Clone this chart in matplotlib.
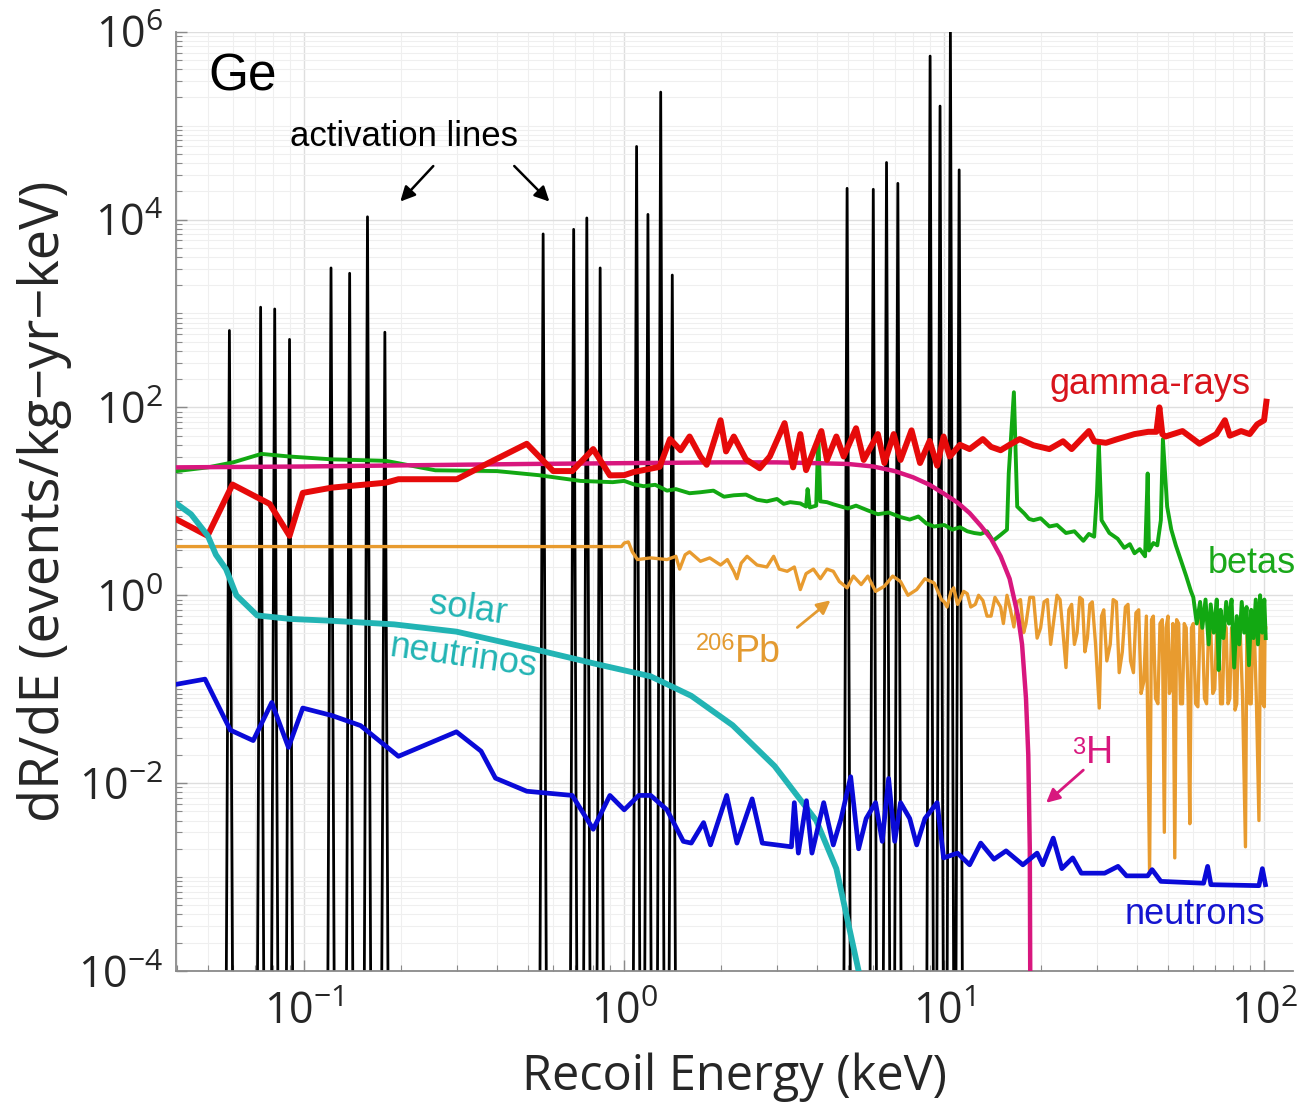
import numpy as np
import matplotlib
matplotlib.use("Agg")
import matplotlib.pyplot as plt
from matplotlib.ticker import LogLocator, NullFormatter

plt.rcParams['font.family'] = ['Open Sans', 'DejaVu Sans']
plt.rcParams['mathtext.fontset'] = 'custom'
plt.rcParams['mathtext.rm'] = 'Open Sans'
plt.rcParams['mathtext.it'] = 'Open Sans:italic'
plt.rcParams['mathtext.bf'] = 'Open Sans:bold'

# activation lines (peak energy keV, peak height)
act_E = [0.0584, 0.0731, 0.0809, 0.0900, 0.1213, 0.1387, 0.1577, 0.1787,
         0.558, 0.695, 0.764, 0.841, 1.093, 1.186, 1.30, 1.413,
         4.97, 6.0, 6.6, 7.16, 9.03, 9.7, 10.45, 11.13]
act_R = [659, 1167, 1117, 530, 3055, 2680, 10700, 632,
         7030, 7870, 10400, 3055, 60000, 11350, 227500, 2566,
         21500, 21000, 40500, 24300, 550000, 161500, 1.0e6, 33800]

# gamma-rays
gam_E = [0.04, 0.0499, 0.0597, 0.078, 0.090, 0.099, 0.122, 0.18, 0.197, 0.30,
         0.379, 0.496, 0.60, 0.688, 0.80, 0.902, 1.0, 1.07, 1.29, 1.39,
         1.50, 1.6, 1.73, 1.81, 2.0, 2.08, 2.2, 2.4, 2.65, 2.85,
         3.17, 3.37, 3.55, 3.7, 4.13, 4.3, 4.6, 4.85, 5.3, 5.6,
         6.2, 6.5, 6.95, 7.3, 7.9, 8.4, 9.0, 9.5, 9.95, 10.4,
         11.2, 12.0, 13.2, 14.0, 15.0, 16.0, 17.2, 19.0, 21.3, 23.5,
         25.0, 28.3, 29.4, 32.0, 34.8, 39.3, 43.4, 46.0, 47.0, 48.0,
         49.1, 55.5, 62.7, 70.8, 75.3, 78.0, 84.6, 90.0, 95.0, 99.8, 101.5]
gam_R = [6.4, 4.3, 15.1, 9.4, 4.3, 12.3, 14, 15.8, 17.2, 17.2,
         25.9, 41, 21, 21, 36, 18.9, 19, 20.5, 23.3, 46,
         35, 49, 30, 24.5, 73, 34, 49, 28, 22.5, 30,
         68, 23, 52, 21.5, 56, 27.6, 49, 30, 60, 27.6,
         52, 25.6, 52, 27.6, 57, 25.6, 44, 24, 49, 30,
         40, 36, 46, 38, 35, 40, 46, 39.5, 36, 43.6,
         36, 56, 43.6, 42, 46, 52, 55, 55, 100, 52,
         49, 56, 41.1, 52, 73, 50, 56, 52, 66, 73, 115]

# betas
beta_E = [0.04, 0.05, 0.06, 0.0735, 0.09, 0.122, 0.18, 0.257, 0.40, 0.54,
          0.73, 0.92, 1.0, 1.07, 1.15, 1.25, 1.36, 1.45, 1.6, 1.73,
          1.9, 2.05, 2.2, 2.4, 2.6, 2.79, 3.0, 3.15, 3.3, 3.55,
          3.7, 3.74, 3.8, 3.98, 4.04, 4.1, 4.3, 4.5, 4.76, 5.0,
          5.3, 5.77, 6.2, 6.7, 7.3, 7.8, 8.3, 8.8, 9.3, 10.0,
          10.6, 11.2, 11.8, 12.4, 13.0, 13.6, 14.2, 15.0, 15.7, 15.9,
          16.5, 16.9, 17.8, 18.4, 19.0, 20.0, 21.3, 22.5, 24.0, 25.5,
          27.2, 28.3, 29.4, 30.0, 30.4, 31.0, 32.8, 34.8, 36.5, 38.0,
          39.3, 40.8, 42.4, 43.2, 43.6, 45.0, 46.3, 47.5, 48.2, 49.7,
          51.2, 52.9, 55.0, 57.0, 59.0, 60.0, 61.5, 63.0, 64.0, 65.5,
          67.0, 68.0, 69.5, 71.0, 72.0, 73.0, 74.5, 76.0, 77.5, 79.0,
          80.5, 82.0, 83.5, 85.0, 86.5, 88.0, 89.5, 91.0, 92.5, 94.0,
          95.5, 97.0, 98.5, 100.0, 101.0]
beta_R = [21, 23, 26, 32, 30, 28, 27, 21.4, 21, 19,
          16.5, 16, 16.5, 15.2, 14.5, 15, 13, 13.5, 12.2, 12.5,
          13, 11.2, 11.6, 11.8, 10.4, 10, 10.6, 9.4, 9.8, 9.5,
          8.8, 13.5, 8.6, 9, 50, 10, 9.8, 9.3, 8.8, 8.4,
          9.0, 8.0, 7.3, 7.6, 6.8, 6.4, 6.9, 5.8, 5.4, 5.6,
          5.0, 5.3, 4.8, 4.6, 4.5, 4.8, 3.8, 4.4, 5.0, 19.8,
          145, 8.8, 7.4, 6.5, 6.3, 6.6, 5.4, 5.6, 4.6, 4.8,
          3.8, 4.5, 4.2, 12.3, 41, 6.3, 4.6, 4.0, 3.2, 3.5,
          2.8, 3.1, 2.6, 19.8, 3.0, 3.6, 3.4, 6.3, 46, 8.8,
          5.0, 3.4, 2.3, 1.6, 1.1, 0.95, 0.5, 0.85, 0.45, 0.9,
          0.3, 0.8, 0.4, 0.9, 0.16, 0.7, 0.35, 0.85, 0.5, 0.9,
          0.17, 0.6, 0.3, 0.85, 0.4, 0.75, 0.18, 0.7, 0.35, 0.9,
          0.3, 1.0, 0.4, 0.9, 0.35]

# 206Pb recoils
pb_E = [0.04, 0.98, 1.0, 1.03, 1.06, 1.1, 1.21, 1.36, 1.45, 1.49,
        1.55, 1.6, 1.73, 1.85, 2.0, 2.1, 2.2, 2.25, 2.32, 2.42,
        2.6, 2.79, 2.93, 3.05, 3.23, 3.4, 3.55, 3.7, 3.9, 4.1,
        4.3, 4.5, 4.7, 4.97, 5.2, 5.5, 5.77, 6.1, 6.5, 6.9,
        7.3, 7.7, 8.2, 8.7, 9.3, 9.8,
        10.0, 10.2, 10.5, 10.7, 11.0, 11.2, 11.5, 11.8, 12.1, 12.5,
        12.8, 13.2, 13.6, 14.0, 14.4, 15.0, 15.3, 15.7, 16.1, 16.5,
        16.9, 17.3, 17.7, 18.0, 18.5, 19.0, 19.5, 20.0, 20.5, 21.0,
        21.5, 22.0, 22.5, 23.0, 23.5, 24.0, 24.5, 25.0, 25.5, 26.0,
        26.5, 27.0, 27.5, 28.0, 28.5, 29.0, 29.7, 30.5, 31.0, 31.5,
        32.2, 33.0, 33.7, 34.5, 35.2, 36.0, 36.8, 37.5, 38.2, 39.0,
        39.7, 40.5, 41.2, 42.0, 42.8, 43.8, 44.4, 45.0, 45.7, 46.5,
        47.2, 48.0, 48.7, 49.3, 50.0, 50.5, 51.0, 51.8, 52.5, 53.2,
        54.0, 54.7, 55.5, 56.2, 57.0, 57.8, 58.5, 59.2, 60.0, 61.0,
        62.0, 63.0, 64.0, 65.0, 66.0, 67.0, 68.0, 69.0, 70.0, 71.0,
        72.0, 73.0, 74.0, 75.0, 76.0, 77.0, 78.0, 79.0, 80.0, 81.0,
        82.0, 83.0, 84.0, 85.5, 87.3, 88.2, 89.0, 90.0, 91.0, 92.0,
        93.0, 94.5, 96.2, 97.2, 98.0, 99.0, 100.0, 100.5, 101.0]
pb_R = [3.3, 3.3, 3.6, 3.7, 2.9, 2.4, 2.5, 2.4, 2.6, 1.9,
        2.7, 2.9, 2.3, 2.5, 2.1, 2.4, 1.8, 1.5, 2.2, 2.6,
        2.1, 2.0, 2.6, 1.9, 1.8, 2.0, 1.15, 1.7, 1.9, 1.5,
        1.9, 1.8, 1.4, 1.2, 1.6, 1.3, 1.6, 1.1, 1.25, 1.6,
        1.4, 1.0, 1.15, 1.5, 1.35, 0.9,
        0.85, 0.75, 1.1, 1.2, 0.8, 0.9, 1.1, 1.04, 0.75, 0.8,
        1.0, 0.88, 0.6, 0.6, 0.95, 0.75, 0.5, 1.0, 0.7, 0.46,
        0.85, 0.9, 0.4, 0.5, 0.95, 0.95, 0.35, 0.45, 0.85, 0.9,
        0.3, 0.55, 1.0, 0.9, 0.4, 0.17, 0.7, 0.8, 0.3, 0.4,
        0.95, 0.9, 0.25, 0.35, 0.8, 0.85, 0.3, 0.063, 0.6, 0.7,
        0.2, 0.3, 0.9, 0.85, 0.15, 0.25, 0.75, 0.8, 0.2, 0.15,
        0.65, 0.7, 0.09, 0.12, 0.6, 0.0011, 0.55, 0.6, 0.08, 0.07,
        0.5, 0.55, 0.003, 0.45, 0.6, 0.09, 0.1, 0.5, 0.0016, 0.55,
        0.5, 0.07, 0.07, 0.5, 0.45, 0.08, 0.0037, 0.45, 0.5, 0.07,
        0.065, 0.55, 0.5, 0.08, 0.07, 0.5, 0.45, 0.09, 0.1, 0.45,
        0.4, 0.07, 0.07, 0.5, 0.45, 0.07, 0.08, 0.45, 0.4, 0.06,
        0.07, 0.5, 0.45, 0.08, 0.0021, 0.45, 0.4, 0.07, 0.07, 0.5,
        0.45, 0.07, 0.004, 0.45, 0.4, 0.07, 0.065, 0.45, 0.45]

# tritium
h3_E = [0.04, 0.1, 0.5, 1.0, 2.0, 3.0, 4.0, 5.0, 6.0, 7.0, 8.0, 9.0,
        10.0, 11.0, 12.0, 13.0, 14.0, 15.0, 16.0, 17.0, 17.5, 18.0,
        18.3, 18.5, 18.6]
h3_R = [23, 23.5, 25, 25.5, 26, 26, 25.5, 25, 23.5, 21, 18, 15,
        12, 9.7, 7.5, 5.5, 4.0, 2.6, 1.5, 0.6, 0.3, 0.08,
        0.02, 0.002, 1e-5]

# solar neutrinos
sol_E = [0.04, 0.0443, 0.05, 0.053, 0.057, 0.0614, 0.0713, 0.0905, 0.122,
         0.191, 0.299, 0.54, 0.82, 1.21, 1.62, 2.18, 2.95, 3.98, 4.6, 5.4, 5.6]
sol_R = [9.4, 7.3, 4.3, 2.7, 1.9, 1.0, 0.61, 0.56, 0.535,
         0.49, 0.41, 0.26, 0.185, 0.137, 0.085, 0.0414, 0.0152, 0.0040,
         0.00123, 1e-4, 5e-5]

# neutrons
neu_E = [0.04, 0.049, 0.0588, 0.0693, 0.0792, 0.0893, 0.099, 0.122, 0.150, 0.197,
         0.299, 0.357, 0.396, 0.496, 0.688, 0.80, 0.902, 1.0, 1.11, 1.21,
         1.36, 1.53, 1.62, 1.77, 1.86, 2.09, 2.25, 2.51, 2.7, 3.33,
         3.4, 3.5, 3.71, 3.86, 4.2, 4.5, 4.76, 5.1, 5.4, 5.7,
         6.1, 6.4, 6.7, 7.0, 7.3, 7.8, 8.2, 8.7, 9.5, 9.95,
         11.0, 12.0, 13.0, 14.3, 15.6, 17.6, 19.5, 20.3, 21.9, 23.3,
         25.2, 26.8, 31.7, 34.9, 37.1, 43.2, 44.6, 47.5, 64.6, 66.5,
         68.1, 96.2, 98.6, 100.8]
neu_R = [0.113, 0.128, 0.0367, 0.0284, 0.0722, 0.024, 0.063, 0.0525, 0.041, 0.0193,
         0.0352, 0.0219, 0.0113, 0.0082, 0.0074, 0.00323, 0.0074, 0.0052, 0.0074, 0.0074,
         0.0052, 0.0024, 0.0023, 0.0038, 0.0022, 0.0074, 0.0023, 0.0068, 0.0023, 0.0021,
         0.0062, 0.0018, 0.0065, 0.0018, 0.0062, 0.0022, 0.0042, 0.0117, 0.0020, 0.0042,
         0.0062, 0.0024, 0.0112, 0.0024, 0.0062, 0.0042, 0.0022, 0.0042, 0.0062, 0.0016,
         0.0018, 0.00135, 0.0023, 0.00155, 0.0019, 0.00135, 0.0018, 0.00135, 0.0026, 0.00123,
         0.0016, 0.0011, 0.0011, 0.0013, 0.00103, 0.00103, 0.0012, 0.0009, 0.00086, 0.0013,
         0.00083, 0.00081, 0.00123, 0.00083]

x_ticks = [0.1, 1, 10, 100]
y_ticks = [1e-4, 1e-2, 1, 1e2, 1e4, 1e6]

fig = plt.figure(figsize=(13, 11.12), dpi=100)
ax = fig.add_axes([0.1352, 0.1268, 0.8595, 0.8447])
ax.set_xscale('log')
ax.set_yscale('log')

# activation lines drawn as very narrow spikes
f = 1.0257
ax_x, ax_y = [], []
for e, r in zip(act_E, act_R):
    ax_x += [e / f, e, e * f]
    ax_y += [1e-5, r, 1e-5]
ax.plot(ax_x, ax_y, color='black', lw=2.0, zorder=2)

ax.plot(pb_E, pb_R, color='#e89b2f', lw=2.4, zorder=3)
ax.plot(beta_E, beta_R, color='#12a812', lw=2.8, zorder=4)
ax.plot(h3_E, h3_R, color='#d8177e', lw=3.2, zorder=5)
ax.plot(gam_E, gam_R, color='#e60a0a', lw=4.3, zorder=6)
ax.plot(sol_E, sol_R, color='#22b4b4', lw=4.2, zorder=7)
ax.plot(neu_E, neu_R, color='#0a0ad8', lw=3.4, zorder=8)

ax.set_xlim(0.0397, 123)
ax.set_ylim(1e-4, 1e6)

ax.set_xticks(x_ticks)
ax.set_yticks(y_ticks)
ax.xaxis.set_minor_locator(LogLocator(base=10, subs=np.arange(2, 10), numticks=100))
ax.xaxis.set_minor_formatter(NullFormatter())
ax.yaxis.set_minor_locator(LogLocator(base=10, subs=np.arange(1, 10), numticks=100))
ax.yaxis.set_minor_formatter(NullFormatter())

ax.grid(True, which='major', color='#dedede', lw=1.0, zorder=0)
ax.grid(True, which='minor', color='#efefef', lw=0.8, zorder=0)
ax.set_axisbelow(True)

for s in ['top', 'right']:
    ax.spines[s].set_visible(False)
for s in ['left', 'bottom']:
    ax.spines[s].set_color('#8a8a8a')
    ax.spines[s].set_linewidth(1.3)

ax.tick_params(which='both', direction='in', colors='#8a8a8a', labelcolor='#262626',
               labelsize=31)
ax.tick_params(which='major', length=8, width=1.0)
ax.tick_params(which='minor', length=4.5, width=0.8)
ax.tick_params(axis='x', pad=14)
ax.tick_params(axis='y', pad=9)

ax.set_xlabel('Recoil Energy (keV)', fontsize=35, color='#262626', labelpad=13)
ax.set_ylabel('dR/dE (events/kg\u2212yr\u2212keV)', fontsize=39, color='#262626', labelpad=4)

ann = ['Liberation Sans', 'DejaVu Sans']
ax.text(0.0501, 3.3e5, 'Ge', family=ann, fontsize=37, ha='left', va='center', zorder=10)
ax.text(0.205, 7.7e4, 'activation lines', family=ann, fontsize=25, ha='center', va='center', zorder=10)
for x0, x1 in [(0.2566, 0.197), (0.447, 0.592)]:
    ax.annotate('', xy=(x1, 1.48e4), xytext=(x0, 3.9e4),
                arrowprops=dict(arrowstyle='-|>', color='black', lw=1.8, mutation_scale=22),
                zorder=10)

ax.text(44, 177, 'gamma-rays', family=ann, fontsize=26, color='#d8141c', ha='center', va='center', zorder=10)
ax.text(91.7, 2.2, 'betas', family=ann, fontsize=26, color='#1aa81a', ha='center', va='center', zorder=10)
ax.text(60.8, 4.0e-4, 'neutrons', family=ann, fontsize=26, color='#1515d0', ha='center', va='center', zorder=10)
ax.text(0.3256, 0.711, 'solar', family=ann, fontsize=26, color='#22b4b4', ha='center', va='center',
        rotation=-8, zorder=10)
ax.text(0.314, 0.219, 'neutrinos', family=ann, fontsize=26, color='#22b4b4', ha='center', va='center',
        rotation=-8, zorder=10)

ax.text(2.22, 0.263, '206', family=ann, fontsize=17, color='#e39a30', ha='right', va='baseline', zorder=10)
ax.text(2.22, 0.194, 'Pb', family=ann, fontsize=27, color='#e39a30', ha='left', va='baseline', zorder=10)
ax.annotate('', xy=(4.48, 0.923), xytext=(3.42, 0.435),
            arrowprops=dict(arrowstyle='-|>', color='#e39a30', lw=2.0, mutation_scale=20), zorder=10)

ax.text(27.6, 0.0206, '3', family=ann, fontsize=17, color='#d8177e', ha='right', va='baseline', zorder=10)
ax.text(27.6, 0.0162, 'H', family=ann, fontsize=27, color='#d8177e', ha='left', va='baseline', zorder=10)
ax.annotate('', xy=(20.5, 0.0059), xytext=(27.6, 0.0144),
            arrowprops=dict(arrowstyle='-|>', color='#d8177e', lw=2.0, mutation_scale=20), zorder=10)

fig.savefig('out.png', dpi=100)
